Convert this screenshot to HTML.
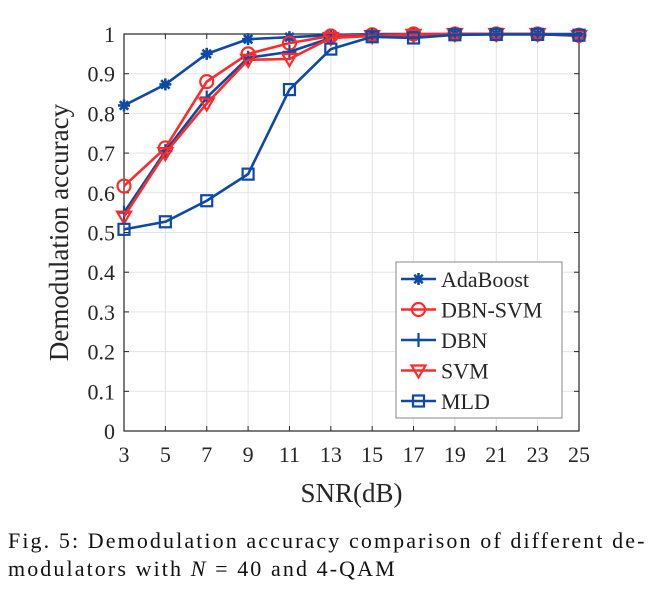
<!DOCTYPE html>
<html><head><meta charset="utf-8"><style>
body{margin:0;background:#fff;width:656px;height:589px;overflow:hidden;font-family:"Liberation Serif",serif;}
svg text{font-family:"Liberation Serif",serif;fill:#262626;}
.cap{position:absolute;left:8px;width:632px;font-size:22px;letter-spacing:2.1px;line-height:28px;color:#111;white-space:nowrap;}
.l1{top:527px;text-align:justify;text-align-last:justify;}
.l2{top:555px;}
</style></head><body>
<svg id="chart" width="656" height="520" style="position:absolute;left:0;top:0"></svg>
<div class="cap l1">Fig. 5: Demodulation accuracy comparison of different de-</div>
<div class="cap l2">modulators with <i>N</i> = 40 and 4-QAM</div>
<script>
const categories=[3,5,7,9,11,13,15,17,19,21,23,25];
const yTicks=[0,0.1,0.2,0.3,0.4,0.5,0.6,0.7,0.8,0.9,1];
const yTickLabels=["0","0.1","0.2","0.3","0.4","0.5","0.6","0.7","0.8","0.9","1"];
const adaboost=[0.82,0.873,0.95,0.987,0.992,0.997,1,1,1,1,1,1];
const dbnSvm=[0.617,0.713,0.88,0.95,0.977,0.995,0.998,1,1,1,1,0.997];
const dbn=[0.55,0.705,0.84,0.94,0.955,0.99,0.997,0.998,1,1,1,0.997];
const svmAcc=[0.54,0.70,0.825,0.935,0.937,0.99,0.995,0.998,1,1,1,0.995];
const mld=[0.508,0.527,0.58,0.647,0.86,0.962,0.993,0.99,0.998,0.999,0.999,0.997];
const seriesNames=["AdaBoost","DBN-SVM","DBN","SVM","MLD"];

const NS="http://www.w3.org/2000/svg";
const svg=document.getElementById('chart');
const L=124,R=579,T=34,B=431;
const xs=v=>L+(v-3)/(25-3)*(R-L);
const ys=v=>B-v*(B-T);
function mk(tag,attrs,parent){const e=document.createElementNS(NS,tag);for(const k in attrs)e.setAttribute(k,attrs[k]);(parent||svg).appendChild(e);return e;}
const BLUE="#0d4aa6",RED="#ff2a2a";
categories.forEach(c=>{const l=mk('line',{x1:xs(c),x2:xs(c),y1:T,y2:B,stroke:'#e3e3e3','stroke-width':1});

});
yTicks.forEach(v=>{const l=mk('line',{x1:L,x2:R,y1:ys(v),y2:ys(v),stroke:'#e3e3e3','stroke-width':1});

});
const box=mk('rect',{x:L,y:T,width:R-L,height:B-T,fill:'none',stroke:'#262626','stroke-width':1.2});


categories.forEach(c=>{mk('line',{x1:xs(c),x2:xs(c),y1:B,y2:B-5,stroke:'#262626'});mk('line',{x1:xs(c),x2:xs(c),y1:T,y2:T+5,stroke:'#262626'});
const t=mk('text',{x:xs(c),y:B+31,'text-anchor':'middle','font-size':22});t.textContent=c;

});
yTicks.forEach((v,i)=>{mk('line',{x1:L,x2:L+5,y1:ys(v),y2:ys(v),stroke:'#262626'});mk('line',{x1:R,x2:R-5,y1:ys(v),y2:ys(v),stroke:'#262626'});
const t=mk('text',{x:L-9,y:ys(v)+8,'text-anchor':'end','font-size':22});t.textContent=yTickLabels[i];

});
const xt=mk('text',{x:(L+R)/2,y:502,'text-anchor':'middle','font-size':27});xt.textContent='SNR(dB)';


const yt=mk('text',{x:0,y:0,'text-anchor':'middle','font-size':27,transform:`translate(68,${(T+B)/2}) rotate(-90)`});yt.textContent='Demodulation accuracy';



function marker(type,x,y,color,g){
 const s={stroke:color,'stroke-width':2.2,fill:'none'};
 if(type==='star'){for(let a=0;a<4;a++){const an=a*Math.PI/4;mk('line',Object.assign({x1:x-6*Math.cos(an),y1:y-6*Math.sin(an),x2:x+6*Math.cos(an),y2:y+6*Math.sin(an)},s,{'stroke-width':2.6}),g);}}
 else if(type==='circle')mk('circle',Object.assign({cx:x,cy:y,r:6.5},s),g);
 else if(type==='plus'){mk('line',Object.assign({x1:x-7,x2:x+7,y1:y,y2:y},s),g);mk('line',Object.assign({x1:x,x2:x,y1:y-7,y2:y+7},s),g);}
 else if(type==='tri')mk('polygon',Object.assign({points:`${x-7},${y-5} ${x+7},${y-5} ${x},${y+7}`},s),g);
 else if(type==='square')mk('rect',Object.assign({x:x-5.5,y:y-5.5,width:11,height:11},s),g);
}
const series=[[adaboost,BLUE,'star'],[dbnSvm,RED,'circle'],[dbn,BLUE,'plus'],[svmAcc,RED,'tri'],[mld,BLUE,'square']];
series.forEach(([d,c,m],si)=>{
 const g=mk('g',{});
 
 
 mk('polyline',{points:d.map((v,i)=>xs(categories[i])+','+ys(v)).join(' '),fill:'none',stroke:c,'stroke-width':2.6,'stroke-linejoin':'round'},g);
 d.forEach((v,i)=>marker(m,xs(categories[i]),ys(v),c,g));
});
const lg=mk('g',{});


mk('rect',{x:396,y:262,width:166,height:156,fill:'#fff',stroke:'#8a8a8a','stroke-width':1},lg);
series.forEach(([d,c,m],i)=>{
 const y=279+i*30.5;
 const e=mk('g',{},lg);
 
 
 mk('line',{x1:401,x2:436,y1:y,y2:y,stroke:c,'stroke-width':2.6},e);
 marker(m,418.5,y,c,e);
 const t=mk('text',{x:441,y:y+8,'font-size':22},e);t.textContent=seriesNames[i];
});
</script>
</body></html>
